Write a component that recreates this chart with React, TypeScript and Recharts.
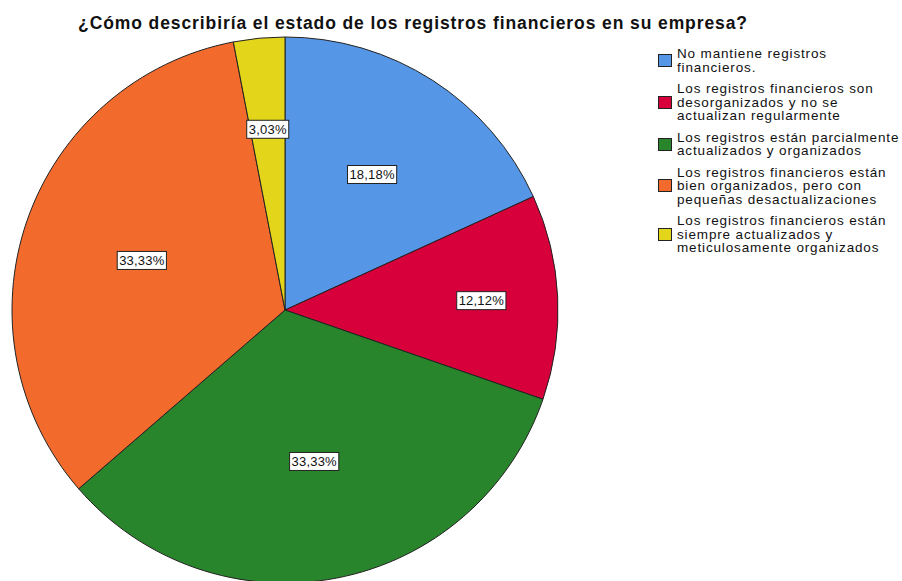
import { PieChart, Pie, Cell } from "recharts";

// respondents per answer (n = 33)
const categories = [
  "No mantiene registros financieros.",
  "Los registros financieros son desorganizados y no se actualizan regularmente",
  "Los registros están parcialmente actualizados y organizados",
  "Los registros financieros están bien organizados, pero con pequeñas desactualizaciones",
  "Los registros financieros están siempre actualizados y meticulosamente organizados",
];
const counts = [6, 4, 11, 11, 1];

// legend text broken as in the original
const legendLines = [
  ["No mantiene registros", "financieros."],
  ["Los registros financieros son", "desorganizados y no se", "actualizan regularmente"],
  ["Los registros están parcialmente", "actualizados y organizados"],
  ["Los registros financieros están", "bien organizados, pero con", "pequeñas desactualizaciones"],
  ["Los registros financieros están", "siempre actualizados y", "meticulosamente organizados"],
];

const COLORS = ["#5596E6", "#D7003A", "#29852B", "#F36A2D", "#E3D51A"];
// how far out each label sits, as a share of the radius
const LABEL_RADIUS = [0.59, 0.72, 0.565, 0.555, 0.665];

const title = "¿Cómo describiría el estado de los registros financieros en su empresa?";

const data = categories.map((name, i) => ({ name, value: counts[i] }));
const RAD = Math.PI / 180;
const FONT = "'Liberation Sans', Arial, sans-serif";

const renderLabel = (props: any) => {
  const { cx, cy, midAngle, outerRadius, percent, index } = props;
  const r = outerRadius * LABEL_RADIUS[index];
  const x = cx + r * Math.cos(-midAngle * RAD);
  const y = cy + r * Math.sin(-midAngle * RAD);
  const text = (percent * 100).toFixed(2).replace(".", ",") + "%";
  const w = text.length * 7.2 + 6;
  const h = 18;
  return (
    <g key={`lbl-${index}`}>
      <rect x={x - w / 2} y={y - h / 2} width={w} height={h} fill="#fff" stroke="#222" strokeWidth={1} />
      <text x={x} y={y + 4.5} textAnchor="middle" fontSize={13} letterSpacing={0.2} fill="#111" fontFamily={FONT}>
        {text}
      </text>
    </g>
  );
};

export default function App() {
  return (
    <div style={{ position: "absolute", left: 0, top: 0, width: 902, height: 581, background: "#fff", overflow: "hidden", fontFamily: FONT }}>
      <div style={{ position: "absolute", left: 0, width: 826, top: 13, textAlign: "center", fontWeight: "bold", fontSize: 17.5, letterSpacing: 0.9, color: "#111", whiteSpace: "nowrap" }}>
        {title}
      </div>
      <PieChart width={902} height={581} margin={{ top: 0, right: 0, bottom: 0, left: 0 }} style={{ position: "absolute", left: 0, top: 0 }}>
        <Pie
          data={data}
          dataKey="value"
          nameKey="name"
          cx={285}
          cy={310}
          outerRadius={273}
          startAngle={90}
          endAngle={-270}
          label={renderLabel}
          labelLine={false}
          stroke="#222"
          strokeWidth={1}
          isAnimationActive={false}
        >
          {data.map((d, i) => (
            <Cell key={d.name} fill={COLORS[i]} />
          ))}
        </Pie>
      </PieChart>
      <div style={{ position: "absolute", left: 658, top: 47, fontSize: 13.5, letterSpacing: 0.85, lineHeight: "13.5px", color: "#111" }}>
        {legendLines.map((lines, i) => (
          <div key={i} style={{ display: "flex", alignItems: "center", marginBottom: 8 }}>
            <div style={{ width: 12, height: 11, background: COLORS[i], border: "1px solid #222", marginRight: 5, flexShrink: 0 }} />
            <div>
              {lines.map((l) => (
                <div key={l} style={{ whiteSpace: "nowrap" }}>{l}</div>
              ))}
            </div>
          </div>
        ))}
      </div>
    </div>
  );
}
